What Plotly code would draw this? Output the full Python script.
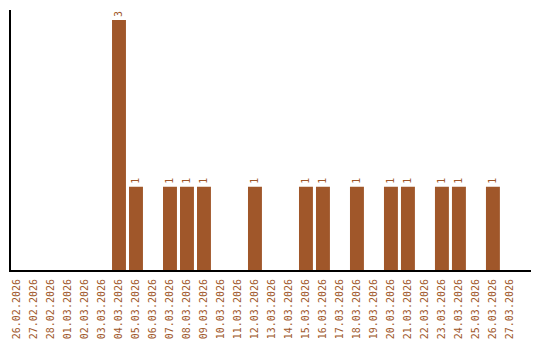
import plotly.graph_objects as go

dates = ["26.02.2026","27.02.2026","28.02.2026","01.03.2026","02.03.2026","03.03.2026",
         "04.03.2026","05.03.2026","06.03.2026","07.03.2026","08.03.2026","09.03.2026",
         "10.03.2026","11.03.2026","12.03.2026","13.03.2026","14.03.2026","15.03.2026",
         "16.03.2026","17.03.2026","18.03.2026","19.03.2026","20.03.2026","21.03.2026",
         "22.03.2026","23.03.2026","24.03.2026","25.03.2026","26.03.2026","27.03.2026"]
values = [0,0,0,0,0,0,3,1,0,1,1,1,0,0,1,0,0,1,1,0,1,0,1,1,0,1,1,0,1,0]

color = "#A0572A"
idx = list(range(len(dates)))
labels = [str(v) if v else "" for v in values]

fig = go.Figure(go.Bar(
    x=idx, y=values, width=0.82, marker=dict(color=color, line=dict(width=0)),
    text=labels, textposition="outside", textangle=-90,
    textfont=dict(family="DejaVu Sans Mono", size=10, color=color),
    cliponaxis=False,
))
fig.update_layout(
    width=540, height=340, margin=dict(l=11, r=9, t=10, b=70),
    paper_bgcolor="white", plot_bgcolor="white", showlegend=False,
    xaxis=dict(range=[-0.353, 30.24], tickmode="array", tickvals=idx, ticktext=dates,
               tickangle=-90, tickfont=dict(family="DejaVu Sans Mono", size=10, color=color),
               showgrid=False, zeroline=False, showline=True, linecolor="black", linewidth=2,
               ticks="", ticklen=0, automargin=False, ticklabelstandoff=3),
    yaxis=dict(range=[0, 3.12], showticklabels=False, showgrid=False, zeroline=False,
               showline=True, linecolor="black", linewidth=2, ticks="", automargin=False),
)
fig.write_html("out.html")
